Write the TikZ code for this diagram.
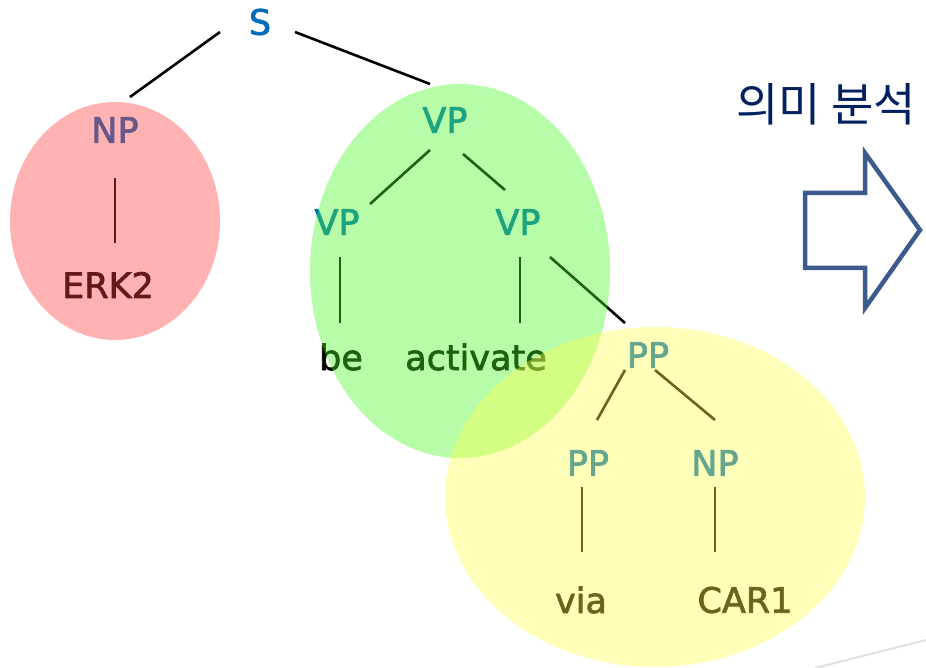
\documentclass[tikz,border=0pt]{standalone}
\usepackage{fontspec}
\setmainfont{DejaVu Sans}
\newfontfamily\treefont[FakeBold=2]{DejaVu Sans}
\newfontfamily\krfont{Noto Sans CJK KR}
\definecolor{catblue}{RGB}{0,108,188}
\definecolor{npfill}{RGB}{255,62,62}
\definecolor{vpfill}{RGB}{75,247,37}
\definecolor{ppfill}{RGB}{255,255,80}
\definecolor{headcol}{RGB}{0,32,96}
\definecolor{arrowcol}{RGB}{60,90,140}
\begin{document}
\begin{tikzpicture}[x=1pt,y=-1pt,
  cat/.style={text=catblue,inner sep=0pt,font=\treefont\fontsize{35}{35}\selectfont},
  word/.style={text=black,inner sep=0pt,font=\treefont\fontsize{35}{35}\selectfont},
  branch/.style={draw=black,line width=2.6pt},
  blob/.style={fill opacity=0.4,draw=none}]
\useasboundingbox (0,0) rectangle (926,668);

% syntax tree labels
\node[cat]  (S)    at (260,22)  {S};
\node[cat]  (NP)   at (115,130) {NP};
\node[word] (ERK)  at (108,285) {ERK2};
\node[cat]  (VP)   at (445,120) {VP};
\node[cat]  (VPa)  at (337,222) {VP};
\node[cat]  (VPb)  at (518,222) {VP};
\node[word] (be)   at (341,357) {be};
\node[word] (act)  at (476,357) {activate};
\node[cat]  (PP)   at (648,355) {PP};
\node[cat]  (PPa)  at (588,463) {PP};
\node[cat]  (NPb)  at (715,463) {NP};
\node[word] (via)  at (581,600) {via};
\node[word] (car)  at (745,600) {CAR1};

% branches
\draw[branch] ([shift={(-40,10)}]S.center) -- ([shift={(15,-33)}]NP.center);
\draw[branch] ([shift={(35,10)}]S.center) -- ([shift={(-15,-36)}]VP.center);
\draw[branch] ([shift={(0,48)}]NP.center) -- ([shift={(7,-42)}]ERK.center);
\draw[branch] ([shift={(-15,30)}]VP.center) -- ([shift={(33,-18)}]VPa.center);
\draw[branch] ([shift={(18,34)}]VP.center) -- ([shift={(-13,-32)}]VPb.center);
\draw[branch] ([shift={(3,35)}]VPa.center) -- ([shift={(-1,-34)}]be.center);
\draw[branch] ([shift={(2,35)}]VPb.center) -- ([shift={(44,-34)}]act.center);
\draw[branch] ([shift={(32,35)}]VPb.center) -- ([shift={(-23,-32)}]PP.center);
\draw[branch] ([shift={(-23,15)}]PP.center) -- ([shift={(9,-43)}]PPa.center);
\draw[branch] ([shift={(7,15)}]PP.center) -- ([shift={(0,-43)}]NPb.center);
\draw[branch] ([shift={(-6,24)}]PPa.center) -- ([shift={(1,-48)}]via.center);
\draw[branch] ([shift={(0,24)}]NPb.center) -- ([shift={(-30,-48)}]car.center);

% translucent constituent groups
\fill[blob,npfill] (115,221) ellipse [x radius=105, y radius=119];
\fill[blob,vpfill] (460,271) ellipse [x radius=150, y radius=187];
\fill[blob,ppfill] (655,497) ellipse [x radius=210, y radius=170];

% heading and block arrow
\node[text=headcol,inner sep=0pt,font=\krfont\fontsize{46}{46}\selectfont] (title) at (826,104) {의미 분석};
\draw[arrowcol,line width=4.5pt,fill=white,line join=miter]
  (805,193) -- (865,193) -- (865,153) -- (920,230) -- (865,308) -- (865,268) -- (805,268) -- cycle;

% faint slide rule in the corner
\draw[gray!25,line width=2pt] (815,668) -- (926,640);
\end{tikzpicture}
\end{document}
